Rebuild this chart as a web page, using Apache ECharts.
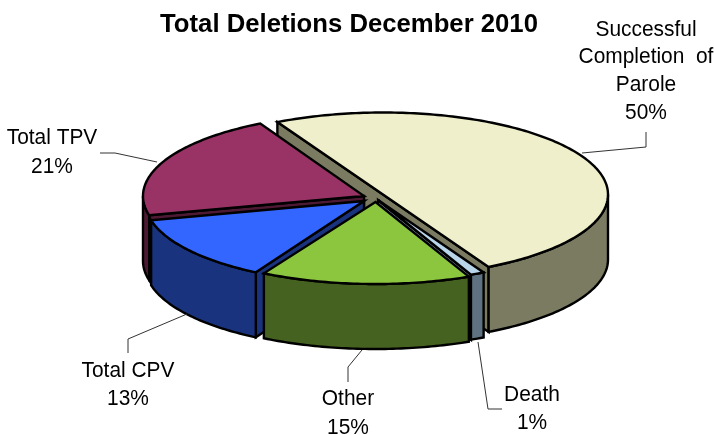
<!DOCTYPE html>
<html><head><meta charset="utf-8">
<style>html,body{margin:0;padding:0;background:#fff}#c{width:714px;height:435px}</style>
<script src="https://cdn.jsdelivr.net/npm/echarts@6/dist/echarts.min.js"></script>
</head><body><div id="c"></div>
<script>
// Data, clockwise from the back-left cut of the largest slice
const categories = ['Successful Completion of Parole', 'Death', 'Other', 'Total CPV', 'Total TPV'];
const values = [50, 1, 15, 13, 21];
const percentLabels = ['50%', '1%', '15%', '13%', '21%'];

// Styles and layout
const topColors = ['#EFEFCB', '#B9D5EA', '#8CC63F', '#3366FF', '#993366'];
const sideColors = ['#7B7B62', '#5F7282', '#466220', '#1A337F', '#4D1933'];
const apexes = [[383, 194.5], [378, 200], [375.5, 202], [364, 201], [364, 196]];
const radiiX = [225, 225, 226, 219, 221];
const paintOrder = [0, 4, 3, 1, 2];
const RY = 82, DEPTH = 65, START = -118;
const leaders = [
  [[582, 153], [646, 147], [646, 132]],
  [[478, 342], [488, 409], [502, 409]],
  [[362, 350], [348, 367], [348, 382]],
  [[187, 314], [128, 339], [128, 353]],
  [[157, 162], [115, 153], [100, 153]]
];
const labelLines = [
  [['Successful', 646, 30], ['Completion  of', 646, 57], ['Parole', 646, 85]],
  [['Death', 532, 395]],
  [['Other', 348, 399]],
  [['Total CPV', 128, 371]],
  [['Total TPV', 52, 138]]
];
const percentPos = [[646, 113], [532, 423], [348, 428], [128, 399], [52, 167]];

const total = values.reduce((a, b) => a + b, 0);
const ranges = [];
values.reduce((acc, v) => { const e = acc + v / total * 360; ranges.push([acc, e]); return e; }, START);
const rad = d => d * Math.PI / 180;
const pt = (i, t, dz) => [apexes[i][0] + radiiX[i] * Math.cos(rad(t)), apexes[i][1] + RY * Math.sin(rad(t)) + (dz || 0)];
const arc = (i, t0, t1, dz) => {
  const n = Math.max(2, Math.ceil(Math.abs(t1 - t0))), out = [];
  for (let k = 0; k <= n; k++) out.push(pt(i, t0 + (t1 - t0) * k / n, dz));
  return out;
};

function renderSlice(params, api) {
  const i = api.value(0);
  const [t0, t1] = ranges[i], a = apexes[i];
  const line = { stroke: '#000', lineWidth: 2.4, lineJoin: 'miter' };
  const kids = [];
  const add = (points, fill) => kids.push({ type: 'polygon', shape: { points }, style: Object.assign({ fill }, line), silent: true });
  // flat cut face, on the side that looks at the viewer
  const cutAngles = i === 0 || i === 1 ? [t1] : i === 3 || i === 4 ? [t0] : [];
  cutAngles.forEach(t => {
    const e = pt(i, t), s = i === 0 ? pt(i, t0) : a;
    add([s, e, [e[0], e[1] + DEPTH], [s[0], s[1] + DEPTH]], i === 1 ? '#7E95A5' : sideColors[i]);
  });
  // outer wall (only the front half of the rim)
  const w0 = Math.max(t0, 0), w1 = Math.min(t1, 180);
  if (w1 > w0) add(arc(i, w0, w1, 0).concat(arc(i, w1, w0, DEPTH)), sideColors[i]);
  // top face
  add([a].concat(arc(i, t0, t1, 0)), topColors[i]);
  return { type: 'group', children: kids };
}

function labelItem(params, api) {
  const i = api.value(0), kids = [];
  kids.push({ type: 'polyline', shape: { points: leaders[i] }, style: { stroke: '#333', lineWidth: 1, fill: null }, silent: true });
  const font = '22px "Liberation Sans", Arial, sans-serif';
  const textEl = (text, x, y) => ({ type: 'text', x, y, scaleX: 0.95, style: { text, x: 0, y: 0, font, fill: '#000', textAlign: 'center', textVerticalAlign: 'middle' } });
  labelLines[i].forEach(l => kids.push(textEl(l[0], l[1], l[2])));
  kids.push(textEl(percentLabels[i], percentPos[i][0], percentPos[i][1]));
  return { type: 'group', children: kids };
}

const chart = echarts.init(document.getElementById('c'), null, { renderer: 'canvas' });
chart.setOption({
  animation: false,
  backgroundColor: '#fff',
  title: {
    text: 'Total Deletions December 2010', left: 344, top: 7, textAlign: 'center',
    textStyle: { fontFamily: '"Liberation Sans", Arial, sans-serif', fontSize: 25.7, fontWeight: 'bold', color: '#000' }
  },
  series: [
    { type: 'custom', coordinateSystem: 'none', renderItem: renderSlice, data: paintOrder.map(i => [i]), silent: true, z: 2 },
    { type: 'custom', coordinateSystem: 'none', renderItem: labelItem, data: categories.map((c, i) => ({ name: c, value: [i] })), silent: true, z: 3 }
  ]
});
</script></body></html>
